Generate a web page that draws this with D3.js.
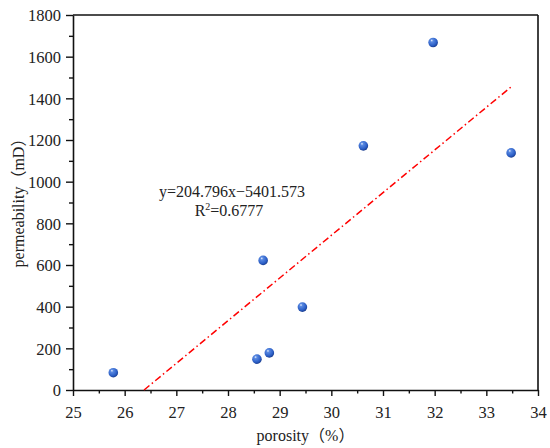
<!DOCTYPE html>
<html>
<head>
<meta charset="utf-8">
<script src="https://cdn.jsdelivr.net/npm/d3@7"></script>
<style>
  body { margin: 0; background: #fff; }
  text { font-family: "Liberation Serif", "Times New Roman", "Noto Sans CJK SC", serif; fill: #222; }
</style>
</head>
<body>
<script>
// data
const porosity = [25.78, 28.56, 28.8, 28.68, 29.44, 30.62, 31.97, 33.48];
const permeability = [83, 148, 178, 622, 398, 1172, 1668, 1138];
const xTicks = [25, 26, 27, 28, 29, 30, 31, 32, 33, 34];
const yTicks = [0, 200, 400, 600, 800, 1000, 1200, 1400, 1600, 1800];
const slope = 204.796, intercept = -5401.573;
const fitLabel = "y=204.796x\u22125401.573";
const r2Value = "0.6777";

const W = 550, H = 448;
const margin = {top: 15, right: 12, bottom: 58, left: 73};
const width = W - margin.left - margin.right,
      height = H - margin.top - margin.bottom;

const svg = d3.select("body").append("svg")
    .attr("width", W)
    .attr("height", H);

const defs = svg.append("defs");
const grad = defs.append("radialGradient")
    .attr("id", "ball")
    .attr("cx", "40%").attr("cy", "35%").attr("r", "65%")
    .attr("fx", "35%").attr("fy", "28%");
grad.append("stop").attr("offset", "0%").attr("stop-color", "#eef4ff");
grad.append("stop").attr("offset", "22%").attr("stop-color", "#5a8ae2");
grad.append("stop").attr("offset", "75%").attr("stop-color", "#2b5ec6");
grad.append("stop").attr("offset", "100%").attr("stop-color", "#1b3e90");

const g = svg.append("g")
    .attr("transform", "translate(" + margin.left + "," + margin.top + ")");

const x = d3.scaleLinear().domain([25, 34]).range([0, width]);
const y = d3.scaleLinear().domain([0, 1800]).range([height, 0]);

// minor ticks
const xMinor = d3.range(25.5, 34, 1);
const yMinor = d3.range(100, 1800, 200);

g.append("g")
    .attr("transform", "translate(0," + height + ")")
    .call(d3.axisBottom(x).tickValues(xMinor).tickSize(3.5).tickFormat(""))
    .call(a => a.select(".domain").remove())
    .selectAll("line").attr("stroke", "#111").attr("stroke-width", 1.4);

g.append("g")
    .call(d3.axisLeft(y).tickValues(yMinor).tickSize(4).tickFormat(""))
    .call(a => a.select(".domain").remove())
    .selectAll("line").attr("stroke", "#111").attr("stroke-width", 1.4);

const xAxis = g.append("g")
    .attr("transform", "translate(0," + height + ")")
    .call(d3.axisBottom(x).tickValues(xTicks).tickSize(6).tickSizeOuter(0).tickPadding(10).tickFormat(d3.format("d")));
xAxis.selectAll("text").attr("font-size", 16.5).style("font-family", "Liberation Serif");

const yAxis = g.append("g")
    .call(d3.axisLeft(y).tickValues(yTicks).tickSize(7).tickSizeOuter(0).tickPadding(5).tickFormat(d3.format("d")));
yAxis.selectAll("text").attr("font-size", 16.5).attr("dy", "0.35em").style("font-family", "Liberation Serif");

[xAxis, yAxis].forEach(a => {
    a.attr("font-family", null);
    a.select(".domain").attr("stroke", "#111").attr("stroke-width", 1.6);
    a.selectAll(".tick line").attr("stroke", "#111").attr("stroke-width", 1.4);
});

// top and right frame
g.append("line").attr("x1", 0).attr("x2", width).attr("y1", 0).attr("y2", 0)
    .attr("stroke", "#111").attr("stroke-width", 1.6);
g.append("line").attr("x1", width).attr("x2", width).attr("y1", 0).attr("y2", height)
    .attr("stroke", "#111").attr("stroke-width", 1.6);

// fit line from zero crossing to the largest porosity
const x0 = -intercept / slope;
const x1 = d3.max(porosity) + 0.03;
g.append("path")
    .datum([x0, x1])
    .attr("fill", "none")
    .attr("stroke", "#ff0000")
    .attr("stroke-width", 1.5)
    .attr("stroke-dasharray", "7,3,1.5,3")
    .attr("d", d3.line().x(d => x(d)).y(d => y(slope * d + intercept)));

// points
g.selectAll("circle.pt")
    .data(porosity.map((p, i) => [p, permeability[i]]))
    .join("circle")
    .attr("class", "pt")
    .attr("cx", d => x(d[0]))
    .attr("cy", d => y(d[1]))
    .attr("r", 4.8)
    .attr("fill", "url(#ball)");

// equation
svg.append("text")
    .attr("x", 232).attr("y", 197)
    .attr("text-anchor", "middle")
    .attr("font-size", 16)
    .text(fitLabel);
const r2 = svg.append("text")
    .attr("x", 229).attr("y", 216)
    .attr("text-anchor", "middle")
    .attr("font-size", 16);
r2.append("tspan").text("R");
r2.append("tspan").attr("font-size", 10).attr("dy", "-0.6em").text("2");
r2.append("tspan").attr("dy", "0.38em").text("=" + r2Value);

// axis titles
svg.append("text")
    .attr("x", margin.left + width / 2)
    .attr("y", 441)
    .attr("text-anchor", "middle")
    .attr("font-size", 16)
    .text("porosity（%）");

svg.append("text")
    .attr("transform", "translate(24,199) rotate(-90)")
    .attr("text-anchor", "middle")
    .attr("font-size", 16)
    .text("permeability（mD）");
</script>
</body>
</html>
